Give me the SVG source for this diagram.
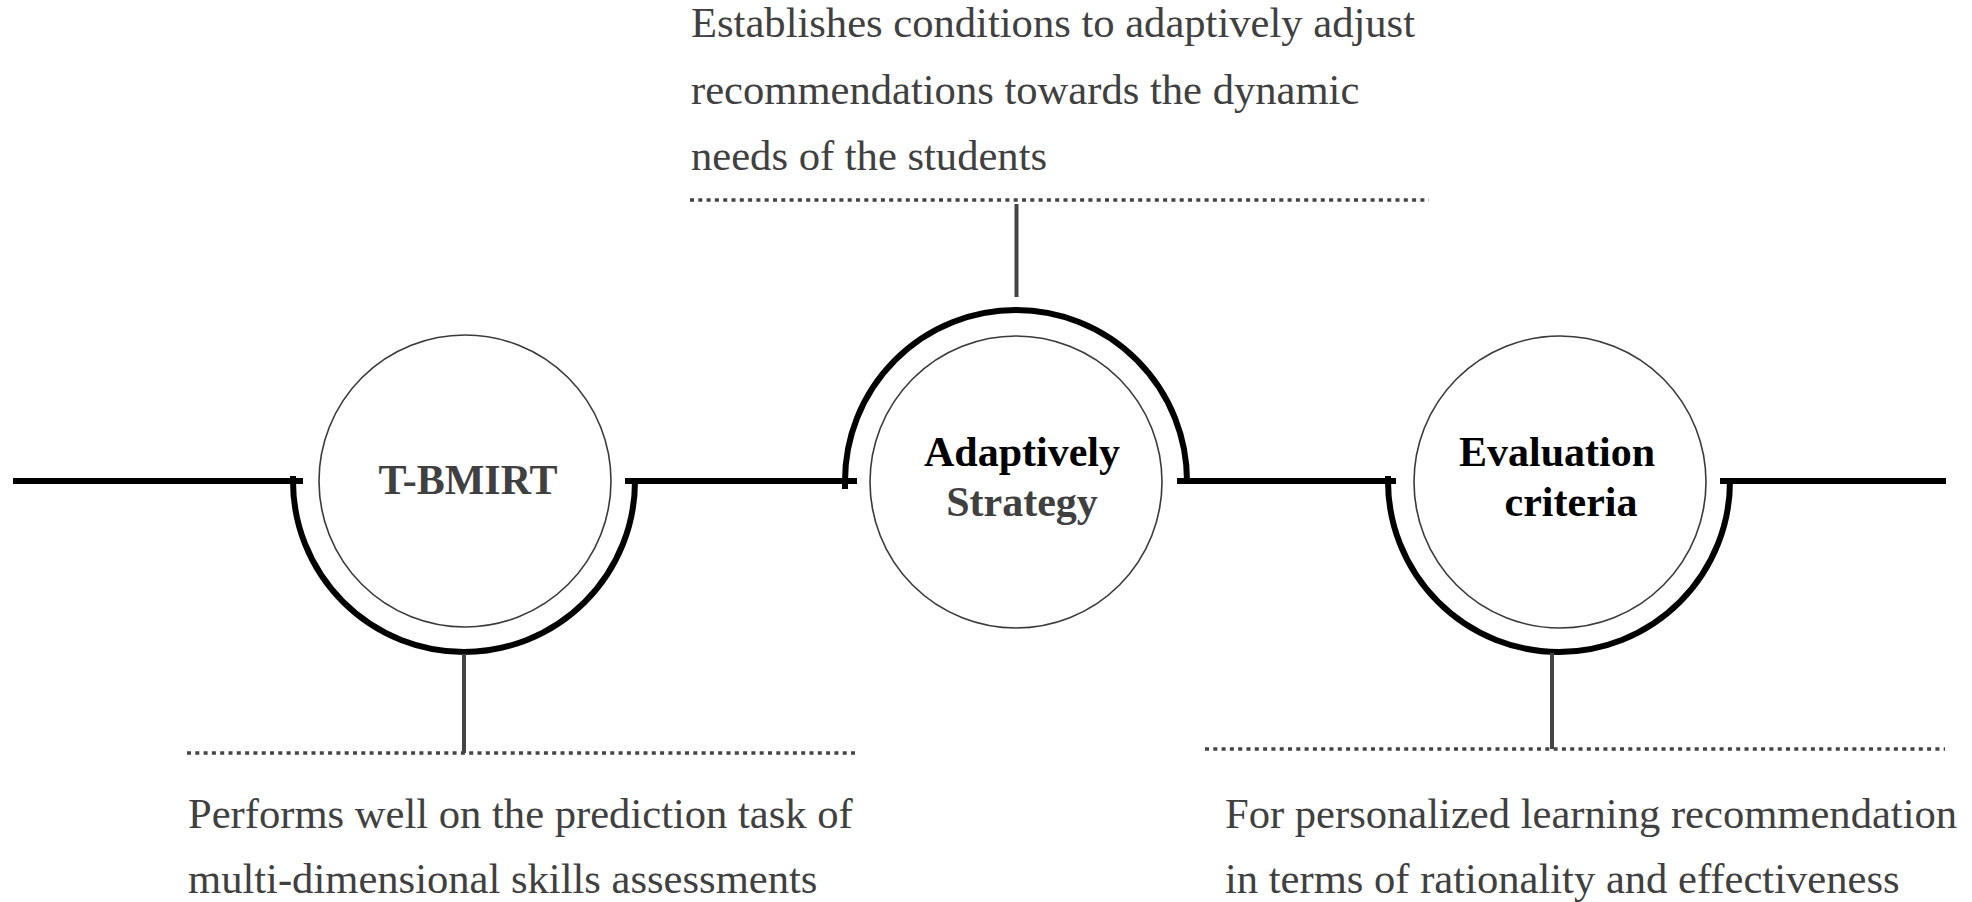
<svg xmlns="http://www.w3.org/2000/svg" width="1972" height="902" viewBox="0 0 1972 902">
  <style>
    .axis { fill: none; stroke: #000; stroke-width: 6; }
    .ring { fill: none; stroke: #000; stroke-width: 6; }
    .node { fill: #fff; stroke: #3a3a3a; stroke-width: 1.6; }
    .stem { stroke: #444; stroke-width: 4; }
    .dots { stroke: #444; stroke-width: 3.5; stroke-dasharray: 4 4.3; }
    .note { font-family: "Liberation Serif", "Times New Roman", serif; font-size: 42.6px; fill: #404040; }
    .title { font-family: "Liberation Serif", "Times New Roman", serif; font-size: 42px; font-weight: bold; text-anchor: middle; }
    .dark { fill: #000; }
    .grey { fill: #404040; }
  </style>
  <rect width="1972" height="902" fill="#fff"/>

  <!-- timeline axis with half rings around each stage -->
  <g id="connectors">
    <line class="axis" x1="13" y1="481" x2="303" y2="481"/>
    <line class="axis" x1="625" y1="481" x2="857" y2="481"/>
    <line class="axis" x1="1177" y1="481" x2="1396" y2="481"/>
    <line class="axis" x1="1720" y1="481" x2="1946" y2="481"/>

    <path class="ring" d="M 293 476 L 293 481 A 171 171 0 0 0 635 481 L 635 479"/>
    <path class="ring" d="M 845 489 L 845 481 A 171 171 0 0 1 1187 481 L 1187 484"/>
    <path class="ring" d="M 1388 476 L 1388 481 A 171 171 0 0 0 1730 481 L 1730 479"/>

    <line class="stem" x1="464" y1="654" x2="464" y2="753"/>
    <line class="stem" x1="1016.5" y1="204" x2="1016.5" y2="297"/>
    <line class="stem" x1="1552" y1="653" x2="1552" y2="749"/>

    <line class="dots" x1="187" y1="753" x2="859" y2="753"/>
    <line class="dots" x1="690" y1="200" x2="1429" y2="200"/>
    <line class="dots" x1="1205" y1="749" x2="1945" y2="749"/>
  </g>

  <g id="node-tbmirt">
    <circle class="node" cx="465" cy="481" r="146"/>
    <text class="title grey" x="468" y="494">T-BMIRT</text>
  </g>

  <g id="node-adaptive">
    <circle class="node" cx="1016" cy="482" r="146"/>
    <text class="title dark" x="1022" y="466">Adaptively</text>
    <text class="title grey" x="1022" y="516">Strategy</text>
  </g>

  <g id="node-evaluation">
    <circle class="node" cx="1560" cy="482" r="146"/>
    <text class="title dark" x="1557" y="466">Evaluation</text>
    <text class="title dark" x="1571" y="516">criteria</text>
  </g>

  <g id="note-adaptive">
    <text class="note" x="691" y="37">Establishes conditions to adaptively adjust</text>
    <text class="note" x="691" y="103.5">recommendations towards the dynamic</text>
    <text class="note" x="691" y="170">needs of the students</text>
  </g>

  <g id="note-tbmirt">
    <text class="note" x="188" y="828">Performs well on the prediction task of</text>
    <text class="note" x="188" y="893">multi-dimensional skills assessments</text>
  </g>

  <g id="note-evaluation">
    <text class="note" x="1225" y="828">For personalized learning recommendation</text>
    <text class="note" x="1225" y="893">in terms of rationality and effectiveness</text>
  </g>
</svg>
